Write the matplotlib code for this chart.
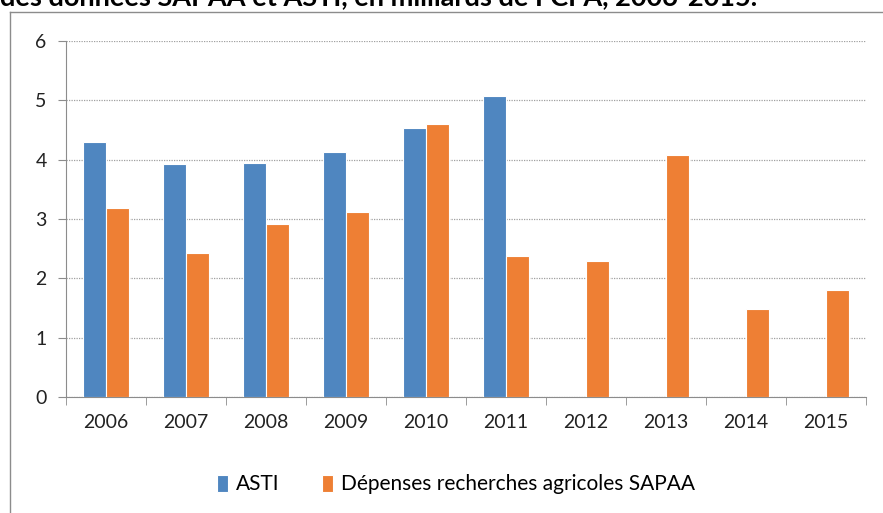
import matplotlib
matplotlib.use('Agg')
import numpy as np
import matplotlib.pyplot as plt
from matplotlib.lines import Line2D

# Data (milliards de FCFA)
years = ['2006', '2007', '2008', '2009', '2010', '2011', '2012', '2013', '2014', '2015']
asti = [4.30, 3.93, 3.95, 4.13, 4.54, 5.08, np.nan, np.nan, np.nan, np.nan]
sapaa = [3.18, 2.42, 2.92, 3.11, 4.60, 2.38, 2.29, 4.08, 1.49, 1.80]

blue = '#4f86c0'
orange = '#ee7f34'

plt.rcParams['font.family'] = ['Lato', 'DejaVu Sans']

fig = plt.figure(figsize=(8.83, 5.13), dpi=100)

# outer chart frame (top and left edges only visible) and clipped title
top = 1 - 12 / 513
left = 10 / 883
fig.lines.append(Line2D([left, 1.0], [top, top], transform=fig.transFigure,
                        color='#8c8c8c', linewidth=1.0))
fig.lines.append(Line2D([left, left], [0.0, top], transform=fig.transFigure,
                        color='#8c8c8c', linewidth=1.0))
fig.text(0.0, 1 - 5.5 / 513, 'des données SAPAA et ASTI, en milliards de FCFA, 2006-2015.',
         fontsize=19.5, fontweight='bold', va='baseline', ha='left', color='black')

ax = fig.add_axes([66 / 883, 1 - 397 / 513, 800 / 883, 356 / 513])

x = np.arange(len(years))
w = 0.285
ax.bar(x - w / 2 - 0.005, asti, width=w, color=blue, edgecolor='white', linewidth=0.8,
       label='ASTI', zorder=3)
ax.bar(x + w / 2 + 0.005, sapaa, width=w, color=orange, edgecolor='white', linewidth=0.8,
       label='Dépenses recherches agricoles SAPAA', zorder=3)

ax.set_xlim(-0.5, len(years) - 0.5)
ax.set_ylim(0, 6)
ax.set_yticks(range(0, 7))
ax.set_xticks(x)
ax.set_xticklabels(years)
ax.set_xticks(np.arange(-0.5, len(years), 1.0), minor=True)

ax.yaxis.grid(True, linestyle=(0, (1, 1)), color='#a0a0a0', linewidth=0.9, zorder=0)
for s in ['top', 'right']:
    ax.spines[s].set_visible(False)
ax.spines['left'].set_color('#8c8c8c')
ax.spines['bottom'].set_color('#8c8c8c')

ax.tick_params(axis='y', length=6, color='#8c8c8c', labelsize=14, pad=8, labelcolor='#222222')
ax.tick_params(axis='x', which='major', length=0, labelsize=14, pad=12, labelcolor='#222222')
ax.tick_params(axis='x', which='minor', length=6, color='#8c8c8c')

ax.legend(loc='upper center', bbox_to_anchor=(0.4875, -0.165), ncol=2, frameon=False,
          fontsize=15, handlelength=0.55, handleheight=0.9, handletextpad=0.4,
          columnspacing=2.0)

fig.savefig('out.png', dpi=100)
